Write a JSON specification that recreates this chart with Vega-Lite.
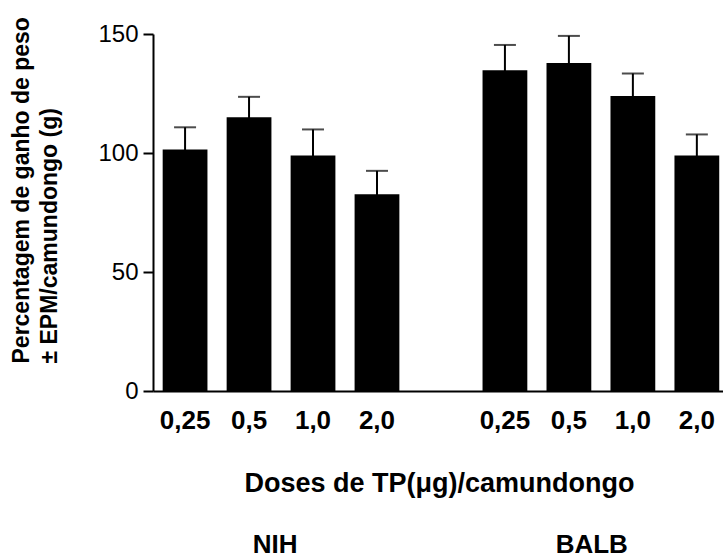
{
  "$schema": "https://vega.github.io/schema/vega-lite/v6.json",
  "width": 570,
  "height": 357,
  "autosize": {"type": "none"},
  "padding": {"left": 153, "top": 34, "right": 0, "bottom": 169},
  "background": "white",
  "config": {
    "view": {"stroke": null},
    "font": "Liberation Sans",
    "axis": {
      "grid": false,
      "domainColor": "black",
      "domainWidth": 2,
      "tickColor": "black",
      "tickWidth": 2,
      "labelColor": "black",
      "titleColor": "black",
      "labelFont": "Liberation Sans",
      "titleFont": "Liberation Sans"
    }
  },
  "datasets": {
    "weight": [
      {"strain": "NIH", "dose": "0,25", "slot": "NIH 0,25", "mean": 101.5, "sem": 9.3},
      {"strain": "NIH", "dose": "0,5", "slot": "NIH 0,5", "mean": 115.0, "sem": 8.6},
      {"strain": "NIH", "dose": "1,0", "slot": "NIH 1,0", "mean": 98.9, "sem": 11.0},
      {"strain": "NIH", "dose": "2,0", "slot": "NIH 2,0", "mean": 82.7, "sem": 9.8},
      {"strain": "BALB", "dose": "0,25", "slot": "BALB 0,25", "mean": 134.8, "sem": 10.6},
      {"strain": "BALB", "dose": "0,5", "slot": "BALB 0,5", "mean": 137.8, "sem": 11.4},
      {"strain": "BALB", "dose": "1,0", "slot": "BALB 1,0", "mean": 123.9, "sem": 9.5},
      {"strain": "BALB", "dose": "2,0", "slot": "BALB 2,0", "mean": 99.0, "sem": 8.8}
    ],
    "strains": [
      {"strain": "NIH"},
      {"strain": "BALB"}
    ]
  },
  "layer": [
    {
      "data": {"name": "weight"},
      "encoding": {
        "x": {
          "field": "slot",
          "type": "nominal",
          "scale": {
            "domain": ["NIH 0,25", "NIH 0,5", "NIH 1,0", "NIH 2,0", "-", "BALB 0,25", "BALB 0,5", "BALB 1,0", "BALB 2,0"],
            "paddingInner": 0.3,
            "paddingOuter": 0.105,
            "align": 0.72
          },
          "axis": {
            "orient": "bottom",
            "ticks": false,
            "tickSize": 0,
            "labelPadding": 16,
            "labelAngle": 0,
            "labelOverlap": false,
            "labelFontWeight": "bold",
            "labelFontSize": 26,
            "labelExpr": "indexof(datum.value, ' ') > 0 ? split(datum.value, ' ')[1] : ''",
            "title": "Doses de TP(μg)/camundongo",
            "titleFontSize": 27,
            "titleFontWeight": "bold",
            "titleX": 286,
            "titleY": 100,
            "titleBaseline": "alphabetic"
          }
        },
        "y": {
          "field": "mean",
          "type": "quantitative",
          "scale": {"domain": [0, 150], "nice": false},
          "axis": {
            "values": [0, 50, 100, 150],
            "tickSize": 10,
            "labelPadding": 5,
            "labelFontSize": 24,
            "title": ["Percentagem de ganho de peso", "± EPM/camundongo (g)"],
            "titleFontSize": 23,
            "titleFontWeight": "bold",
            "titleAngle": 270,
            "titleAlign": "left",
            "titleBaseline": "top",
            "titleX": -143,
            "titleY": 329,
            "titleLineHeight": 28
          }
        }
      },
      "layer": [
        {
          "mark": {"type": "bar", "color": "black"}
        },
        {
          "mark": {
            "type": "errorbar",
            "ticks": {"size": 22, "thickness": 2, "color": "black"},
            "rule": {"strokeWidth": 2, "color": "black"}
          },
          "encoding": {
            "yError": {"field": "sem"}
          }
        }
      ]
    },
    {
      "data": {"name": "strains"},
      "mark": {"type": "point", "opacity": 0},
      "encoding": {
        "x": {
          "field": "strain",
          "type": "nominal",
          "scale": {"type": "point", "domain": ["NIH", "BALB"], "padding": 0.4, "align": 0.48},
          "axis": {
            "orient": "bottom",
            "offset": 161,
            "domain": false,
            "ticks": false,
            "tickSize": 0,
            "labelPadding": 0,
            "labelAngle": 0,
            "labelBaseline": "alphabetic",
            "labelFontWeight": "bold",
            "labelFontSize": 26,
            "title": null
          }
        }
      }
    }
  ],
  "resolve": {"scale": {"x": "independent"}, "axis": {"x": "independent"}}
}
